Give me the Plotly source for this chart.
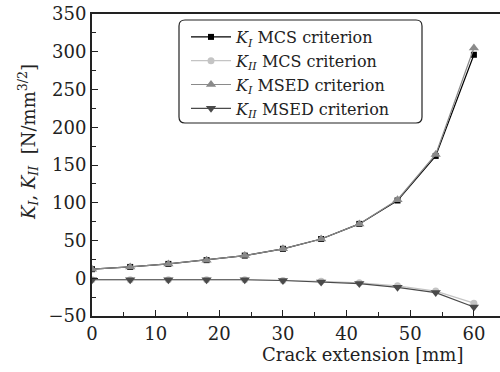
import plotly.graph_objects as go

crack = [0, 6, 12, 18, 24, 30, 36, 42, 48, 54, 60]
ki_mcs = [12, 15, 19, 24, 30, 39, 52, 72, 103, 162, 296]
kii_mcs = [-2, -2, -2, -2, -2, -3, -4, -6, -10, -17, -33]
ki_msed = [12, 15, 19, 24, 30, 39, 52, 72, 104, 164, 305]
kii_msed = [-2, -2, -2, -2, -2, -3, -5, -7, -12, -19, -38]

FONT = "DejaVu Serif"

series = [
    ("<i>K</i><sub><i>I</i></sub> MCS criterion", ki_mcs, "#000000", "square", 6),
    ("<i>K</i><sub><i>II</i></sub> MCS criterion", kii_mcs, "#c4c4c4", "circle", 7),
    ("<i>K</i><sub><i>I</i></sub> MSED criterion", ki_msed, "#8a8a8a", "triangle-up", 9),
    ("<i>K</i><sub><i>II</i></sub> MSED criterion", kii_msed, "#4a4a4a", "triangle-down", 9),
]

fig = go.Figure()
for name, vals, col, sym, sz in series:
    fig.add_trace(go.Scatter(
        x=crack, y=vals, name=name, mode="lines+markers",
        line=dict(color=col, width=1.2),
        marker=dict(symbol=sym, color=col, size=sz),
    ))

fig.update_layout(
    width=500, height=372,
    margin=dict(l=92, r=0, t=14, b=56),
    paper_bgcolor="white", plot_bgcolor="white",
    font=dict(family=FONT, size=18, color="#222"),
    showlegend=True,
    legend=dict(
        x=(186 - 92) / 408, y=1 - (20 - 14) / 302, xanchor="left", yanchor="top",
        bgcolor="rgba(255,255,255,0)", borderwidth=0,
        font=dict(family=FONT, size=16, color="#222"),
        tracegroupgap=0, itemwidth=40,
    ),
    xaxis=dict(
        range=[0, 64.1], showgrid=False, zeroline=False,
        showline=True, linecolor="#222", linewidth=2, mirror=True,
        ticks="inside", ticklen=6, tickcolor="#222",
        tickmode="array", tickvals=[0, 10, 20, 30, 40, 50, 60],
        minor=dict(ticks="inside", ticklen=4, dtick=5, tickcolor="#222"),
        tickfont=dict(family=FONT, size=18, color="#222"),
    ),
    yaxis=dict(
        range=[-50, 350], showgrid=False, zeroline=False,
        showline=True, linecolor="#222", linewidth=2,
        ticks="inside", ticklen=6, tickcolor="#222",
        tickmode="array", tickvals=[-50, 0, 50, 100, 150, 200, 250, 300, 350],
        minor=dict(ticks="inside", ticklen=4, dtick=25, tickcolor="#222"),
        tickfont=dict(family=FONT, size=18, color="#222"),
    ),
    annotations=[
        dict(text="Crack extension [mm]", xref="paper", yref="paper",
             x=(362 - 92) / 408, y=-(355 - 316) / 302, xanchor="center", yanchor="middle",
             showarrow=False, font=dict(family=FONT, size=18, color="#222")),
        dict(text="<i>K</i><sub><i>I</i></sub>, <i>K</i><sub><i>II</i></sub>  [N/mm<sup>3/2</sup>]",
             xref="paper", yref="paper", textangle=-90,
             x=-(92 - 28) / 408, y=(316 - 142) / 302, xanchor="center", yanchor="middle",
             showarrow=False, font=dict(family=FONT, size=18, color="#222")),
    ],
    shapes=[
        dict(type="path", xref="paper", yref="paper", layer="above",
             path=("M {a},{t} L {b},{t} Q {br},{t} {br},{tt} L {br},{bb} Q {br},{bo} {b},{bo} "
                   "L {a},{bo} Q {al},{bo} {al},{bb} L {al},{tt} Q {al},{t} {a},{t} Z").format(
                 al=(179 - 92) / 408, a=(185 - 92) / 408, b=(416 - 92) / 408, br=(422 - 92) / 408,
                 t=(316 - 20) / 302, tt=(316 - 26) / 302, bb=(316 - 117) / 302, bo=(316 - 123) / 302),
             line=dict(color="#222", width=1.2)),
    ],
)

fig.write_html("out.html")
